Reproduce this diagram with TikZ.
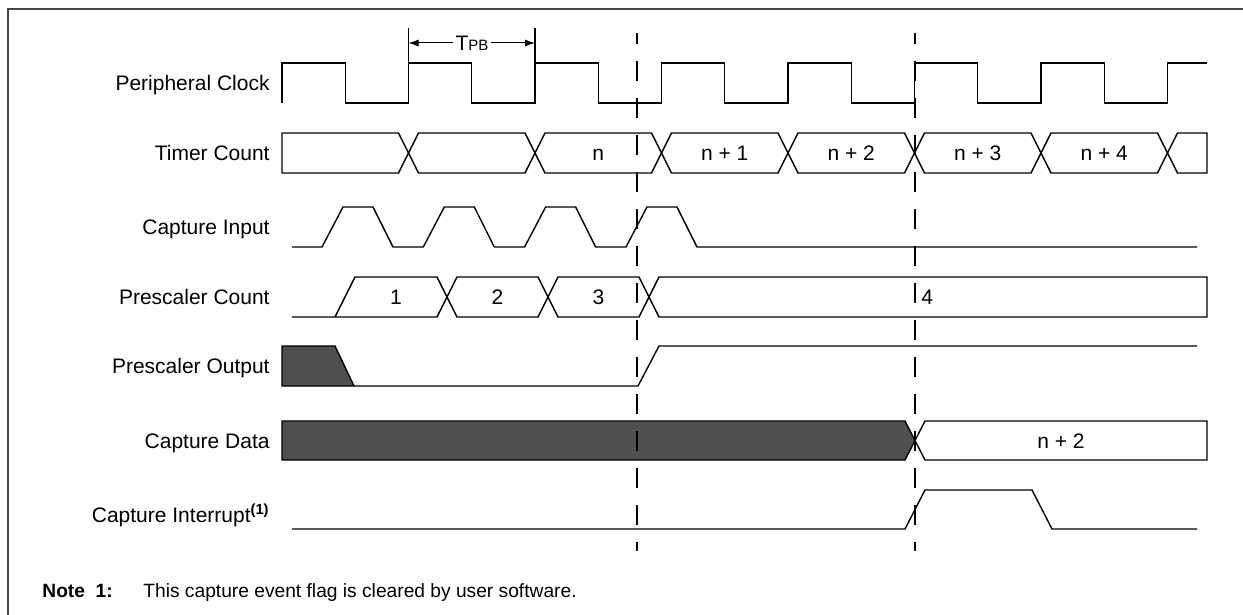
\documentclass[tikz,border=0pt]{standalone}
\usepackage{fontspec}
\setmainfont{Liberation Sans}
\usetikzlibrary{arrows.meta}
\definecolor{busgray}{RGB}{80,80,80}
\definecolor{framegray}{RGB}{70,70,70}

\begin{document}
\begin{tikzpicture}[x=0.5pt,y=-0.5pt,
  font=\fontsize{10.5}{12.6}\selectfont,
  wave/.style={line width=0.7pt, line join=miter},
  busfill/.style={wave, fill=busgray},
  sig/.style={anchor=base east, inner sep=0pt},
  val/.style={anchor=base, inner sep=0pt},
  marker/.style={line width=0.7pt, dash pattern=on 10pt off 8.5pt, dash phase=4.5pt},
  tick/.style={-{Latex[length=5pt,width=3.5pt]}, line width=0.5pt}]
\useasboundingbox (0,0) rectangle (1243,615);
\fill[white] (0,0) rectangle (1243,615);
\draw[framegray, line width=1pt] (8,9) rectangle (1260,630);

% signal names
\node[sig] (lclk) at (270,90.5) {Peripheral Clock};
\node[sig] (ltmr) at (270,160.5) {Timer Count};
\node[sig] (lcin) at (270,234.5) {Capture Input};
\node[sig] (lpsc) at (270,304.5) {Prescaler Count};
\node[sig] (lpso) at (270,373.5) {Prescaler Output};
\node[sig] (lcdt) at (270,448) {Capture Data};
\node[sig] (lcir) at (270,522.5) {Capture Interrupt\textsuperscript{\textbf{(1)}}};

% TPB
\draw[wave] (408.5,28) -- (408.5,63);
\draw[wave] (535,28) -- (535,63);
\coordinate (tpbl) at (408.5,43);
\coordinate (tpbr) at (535,43);
\node[fill=white, inner sep=1pt] (tpb) at (472,43) {T\fontsize{7.5}{9}\selectfont PB};
\draw[tick] (tpb.west) -- (tpbl);
\draw[tick] (tpb.east) -- (tpbr);

% peripheral clock
\draw[wave] (282,103) \foreach \k in {1,...,7} { -- ++(0,-40) -- ++(63.25,0) -- ++(0,40) -- ++(63.25,0) } -- ++(0,-40) -- (1207,63);

% timer count
\draw[wave] (282,133) -- (398.5,133) -- (408.5,153) -- (398.5,173) -- (282,173) -- cycle;
\foreach \a/\v [count=\i] in {408.5/{}, 535/n, 661.5/n + 1, 788/n + 2, 914.5/n + 3, 1041/n + 4} {
  \draw[wave] (\a,153) -- ++(10,-20) -- ++(106.5,0) -- ++(10,20) -- ++(-10,20) -- ++(-106.5,0) -- cycle;
  \node[val] (tc\i) at (\a+63.25,160.5) {\v};
}
\draw[wave] (1167.5,153) -- (1177.5,133) -- (1207,133) -- (1207,173) -- (1177.5,173) -- cycle;

% capture input
\draw[wave] (292,247) \foreach \r in {322,423.3,524.6,626} { -- (\r,247) -- ++(21,-40) -- ++(30,0) -- ++(20,40) } -- (1197,247);

% prescaler count
\draw[wave] (335,317) -- (355,277) -- (437,277) -- (447,297) -- (437,317) -- (292,317);
\foreach \a/\b in {447/548, 548/649}
  \draw[wave] (\a,297) -- (\a+10,277) -- (\b-10,277) -- (\b,297) -- (\b-10,317) -- (\a+10,317) -- cycle;
\draw[wave] (649,297) -- (659,277) -- (1207,277) -- (1207,317) -- (659,317) -- cycle;
\node[val] (pc1) at (396,304.5) {1};
\node[val] (pc2) at (497.5,304.5) {2};
\node[val] (pc3) at (598.5,304.5) {3};
\node[val, anchor=base west] (pc4) at (921,304.5) {4};

% prescaler output
\draw[busfill] (282,346) -- (335,346) -- (354,386) -- (282,386) -- cycle;
\draw[wave] (354,386) -- (638,386) -- (659,346) -- (1197,346);

% capture data
\draw[busfill] (282,421) -- (905,421) -- (915,440.5) -- (905,460) -- (282,460) -- cycle;
\draw[wave] (915,440.5) -- (925,421) -- (1207,421) -- (1207,460) -- (925,460) -- cycle;
\node[val] (cd) at (1061,448) {n + 2};

% capture interrupt
\draw[wave] (292,529) -- (905,529) -- (925,490) -- (1032,490) -- (1052,529) -- (1197,529);

% event markers
\draw[marker] (637,33) -- (637,551);
\draw[marker] (915,33) -- (915,551);

% note
\node[anchor=base west, inner sep=0pt, font=\fontsize{9.6}{11.5}\selectfont\bfseries] (note) at (42,597) {Note\ \ 1:};
\node[anchor=base west, inner sep=0pt, font=\fontsize{9.6}{11.5}\selectfont] (notetxt) at (143,597) {This capture event flag is cleared by user software.};
\end{tikzpicture}
\end{document}
